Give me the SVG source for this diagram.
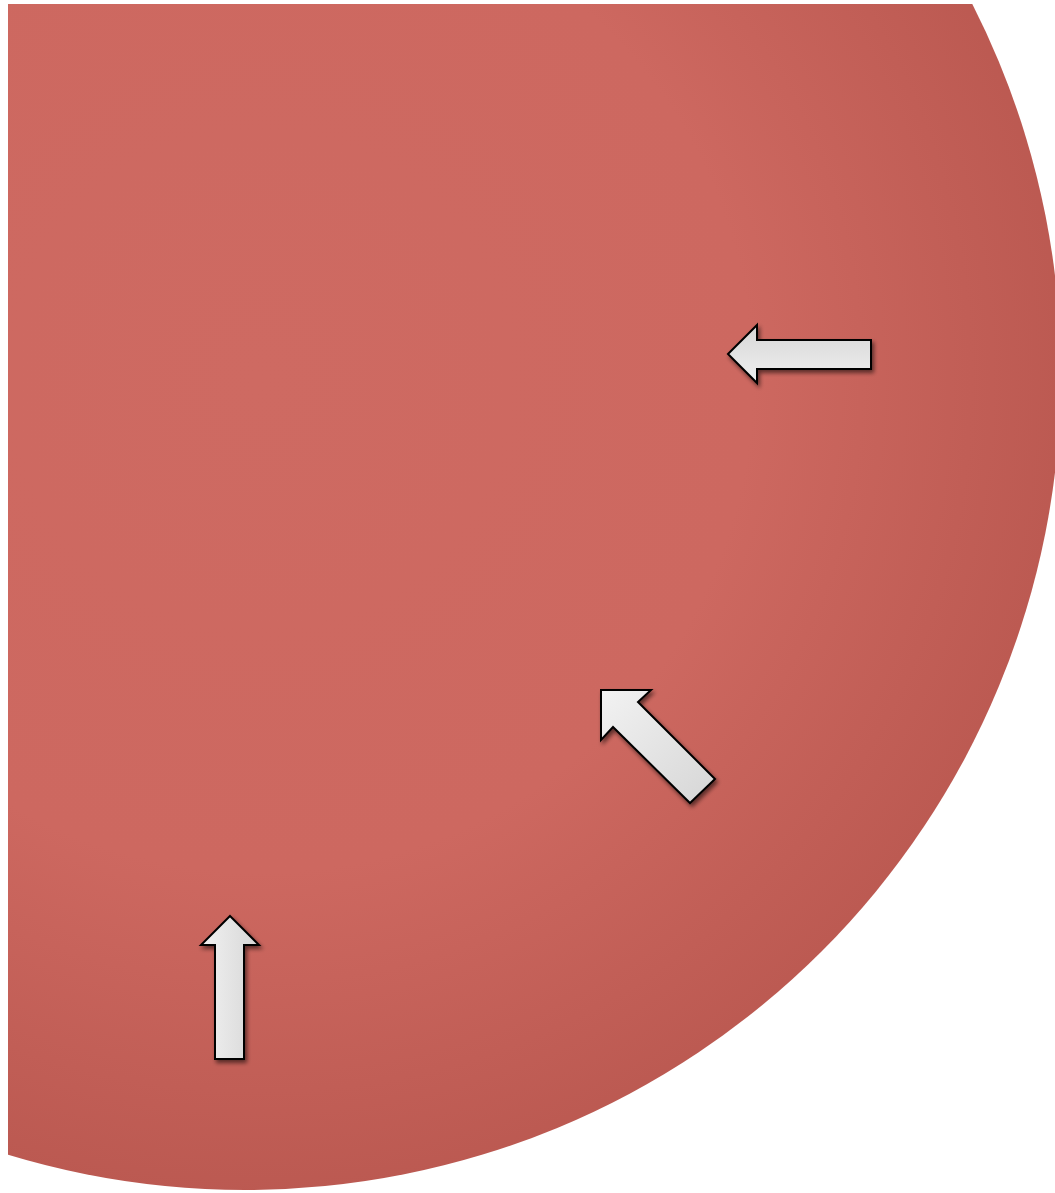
<svg xmlns="http://www.w3.org/2000/svg" width="1055" height="1193" viewBox="0 0 1055 1193">
  <defs>
    <radialGradient id="bg" gradientUnits="userSpaceOnUse" cx="260" cy="380" r="820">
      <stop offset="0" stop-color="#CE6A62"/>
      <stop offset="0.6" stop-color="#CD6860"/>
      <stop offset="1" stop-color="#BB5951"/>
    </radialGradient>
    <linearGradient id="gh" x1="0" y1="0" x2="1" y2="0">
      <stop offset="0" stop-color="#F2F2F2"/>
      <stop offset="1" stop-color="#D6D6D6"/>
    </linearGradient>
    <linearGradient id="gv" x1="0" y1="0" x2="0" y2="1">
      <stop offset="0" stop-color="#D6D6D6"/>
      <stop offset="1" stop-color="#F0F0F0"/>
    </linearGradient>
    <linearGradient id="gd" x1="0" y1="0" x2="1" y2="1">
      <stop offset="0" stop-color="#F2F2F2"/>
      <stop offset="1" stop-color="#D6D6D6"/>
    </linearGradient>
    <clipPath id="clip">
      <rect x="8" y="4" width="1047" height="1189"/>
    </clipPath>
    <filter id="sh" x="-20%" y="-20%" width="150%" height="150%">
      <feGaussianBlur in="SourceAlpha" stdDeviation="2"/>
      <feOffset dx="2" dy="3" result="b"/>
      <feComponentTransfer><feFuncA type="linear" slope="0.55"/></feComponentTransfer>
      <feMerge><feMergeNode/><feMergeNode in="SourceGraphic"/></feMerge>
    </filter>
  </defs>
  <style>
    .arrow { stroke: #000; stroke-width: 2; stroke-linejoin: miter; filter: url(#sh); }
  </style>
  <g id="circle">
    <circle cx="245" cy="374" r="816" fill="url(#bg)" clip-path="url(#clip)"/>
  </g>
  <g id="connectors">
    <polygon id="arrow-left" class="arrow" fill="url(#gv)" points="728,354 757,325 757,340 871,340 871,369 757,369 757,383"/>
    <polygon id="arrow-diag" class="arrow" fill="url(#gd)" points="601,690 651,690 638,702 715,779 690,803 613,727 601,740"/>
    <polygon id="arrow-up" class="arrow" fill="url(#gh)" points="230,916 259,945 244,945 244,1059 215,1059 215,945 201,945"/>
  </g>
</svg>
